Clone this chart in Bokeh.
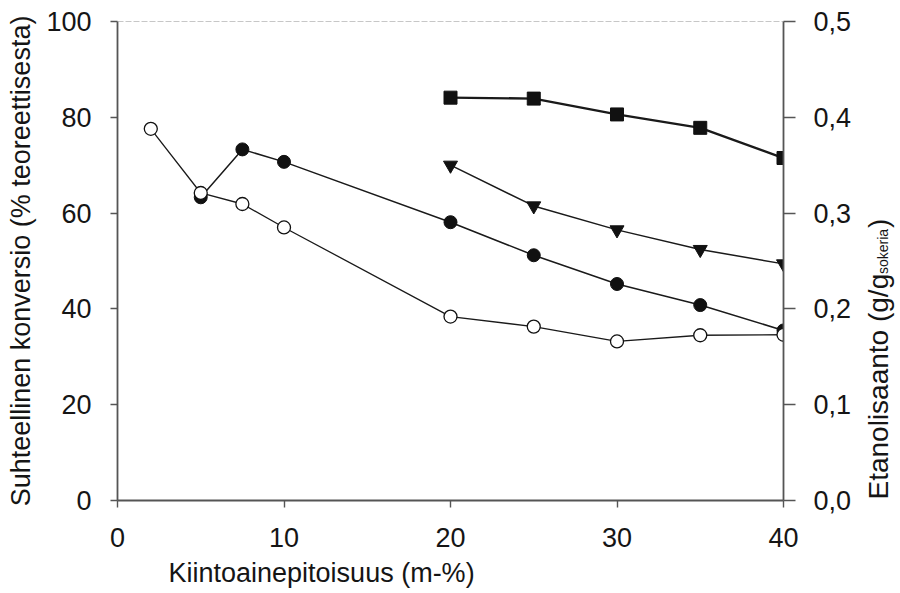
import math
from bokeh.plotting import figure
from bokeh.layouts import row
from bokeh.models import (LinearAxis, Range1d, Span, Label, CustomJSTickFormatter,
                          FixedTicker, Title)
from bokeh.embed import file_html
from bokeh.resources import INLINE

# ---- data ----
x_sq = [20, 25, 30, 35, 40]
y_sq = [84.1, 83.9, 80.6, 77.8, 71.5]

x_tri = [20, 25, 30, 35, 40]
y_tri = [70.0, 61.5, 56.5, 52.4, 49.4]

x_fc = [5, 7.5, 10, 20, 25, 30, 35, 40]
y_fc = [63.3, 73.3, 70.7, 58.1, 51.2, 45.2, 40.8, 35.5]

x_oc = [2, 5, 7.5, 10, 20, 25, 30, 35, 40]
y_oc = [77.6, 64.2, 61.9, 57.0, 38.4, 36.3, 33.2, 34.5, 34.6]

x_ticks = [0, 10, 20, 30, 40]
y_ticks = [0, 20, 40, 60, 80, 100]
y2_ticks = [0.0, 0.1, 0.2, 0.3, 0.4, 0.5]

x_title = "Kiintoainepitoisuus (m-%)"
y_title = "Suhteellinen konversio (% teoreettisesta)"
y2_title_main = "Etanolisaanto (g/g"
y2_title_sub = "sokeria"
y2_title_end = ")"

FONT = "Liberation Sans"
TICK_FS = "27px"
TITLE_FS = "27px"
AX_COL = "#555555"
LINE_COL = "#1a1a1a"
TXT_COL = "#151515"

W_MAIN, W_RIGHT, H = 855, 45, 593
FR_TOP, FR_BOT = 21, 501   # frame top / bottom in page pixels

p = figure(width=W_MAIN, height=H, output_backend="svg", toolbar_location=None,
           x_range=Range1d(0, 40), y_range=Range1d(0, 100),
           min_border_left=117, min_border_right=72, min_border_top=FR_TOP,
           min_border_bottom=H - FR_BOT)
p.outline_line_color = None
p.grid.visible = False
p.background_fill_color = "white"
p.border_fill_color = "white"

p.extra_y_ranges = {"y2": Range1d(0, 0.5)}
ax2 = LinearAxis(y_range_name="y2")
p.add_layout(ax2, "right")

for ax in [p.xaxis[0], p.yaxis[0], ax2]:
    ax.axis_line_color = AX_COL
    ax.axis_line_width = 1.8
    ax.major_tick_line_color = AX_COL
    ax.major_tick_line_width = 1.4
    ax.minor_tick_line_color = None
    ax.major_tick_in = 0
    ax.major_label_text_font = FONT
    ax.major_label_text_font_size = TICK_FS
    ax.major_label_text_color = TXT_COL

p.xaxis[0].ticker = FixedTicker(ticks=x_ticks)
p.xaxis[0].major_tick_out = 7
p.xaxis[0].major_label_standoff = 20
p.yaxis[0].ticker = FixedTicker(ticks=y_ticks)
p.yaxis[0].major_tick_out = 7
p.yaxis[0].major_label_standoff = 19
p.yaxis[0].axis_label = y_title
p.yaxis[0].axis_label_text_font = FONT
p.yaxis[0].axis_label_text_font_size = TITLE_FS
p.yaxis[0].axis_label_text_font_style = "normal"
p.yaxis[0].axis_label_text_color = TXT_COL
p.yaxis[0].axis_label_standoff = 7
ax2.ticker = FixedTicker(ticks=y2_ticks)
ax2.major_tick_out = 12
ax2.major_label_standoff = 18
ax2.formatter = CustomJSTickFormatter(code="return tick.toFixed(1).replace('.', ',');")

p.add_layout(Title(text=x_title, align="left", offset=51, standoff=12,
                   text_font=FONT, text_font_size=TITLE_FS, text_font_style="normal",
                   text_color=TXT_COL), "below")

# top border
p.add_layout(Span(location=100, dimension="width", line_color="#8f8f8f",
                  line_width=1.2, line_dash="6 2"))

# series
p.line(x_sq, y_sq, line_color=LINE_COL, line_width=2.4)
p.scatter(x_sq, y_sq, marker="square", size=13, fill_color="#111111", line_color="#111111")

p.line(x_tri, y_tri, line_color=LINE_COL, line_width=1.5)
p.scatter(x_tri, y_tri, marker="inverted_triangle", size=14, fill_color="#111111", line_color="#111111")

p.line(x_fc, y_fc, line_color=LINE_COL, line_width=1.5)
p.scatter(x_fc, y_fc, marker="circle", size=13, fill_color="#111111", line_color="#111111")

p.line(x_oc, y_oc, line_color=LINE_COL, line_width=1.3)
p.scatter(x_oc, y_oc, marker="circle", size=13, fill_color="white", line_color="#111111", line_width=1.3)

# right-hand title panel: its frame is aligned with the main frame (rows align frames),
# so its y range is expressed as (H - page_y) over the frame's extent.
r = figure(width=W_RIGHT, height=H, output_backend="svg", toolbar_location=None,
           x_range=Range1d(0, W_RIGHT), y_range=Range1d(H - FR_BOT, H - FR_TOP),
           min_border_left=0, min_border_right=0, min_border_top=FR_TOP,
           min_border_bottom=H - FR_BOT,
           x_axis_location=None, y_axis_location=None)
r.outline_line_color = None
for g in r.grid:
    g.visible = False
r.background_fill_color = "white"
r.border_fill_color = "white"

r.add_layout(Label(x=23, y=93, text=y2_title_main, angle=math.pi / 2,
                   text_align="left", text_baseline="alphabetic",
                   text_font=FONT, text_font_size="28px", text_color=TXT_COL))
r.add_layout(Label(x=27, y=319, text=y2_title_sub, angle=math.pi / 2,
                   text_align="left", text_baseline="alphabetic",
                   text_font=FONT, text_font_size="14px", text_color=TXT_COL))
r.add_layout(Label(x=23, y=365, text=y2_title_end, angle=math.pi / 2,
                   text_align="left", text_baseline="alphabetic",
                   text_font=FONT, text_font_size="28px", text_color=TXT_COL))

layout = row(p, r)
open("out.html", "w").write(file_html(layout, INLINE))
